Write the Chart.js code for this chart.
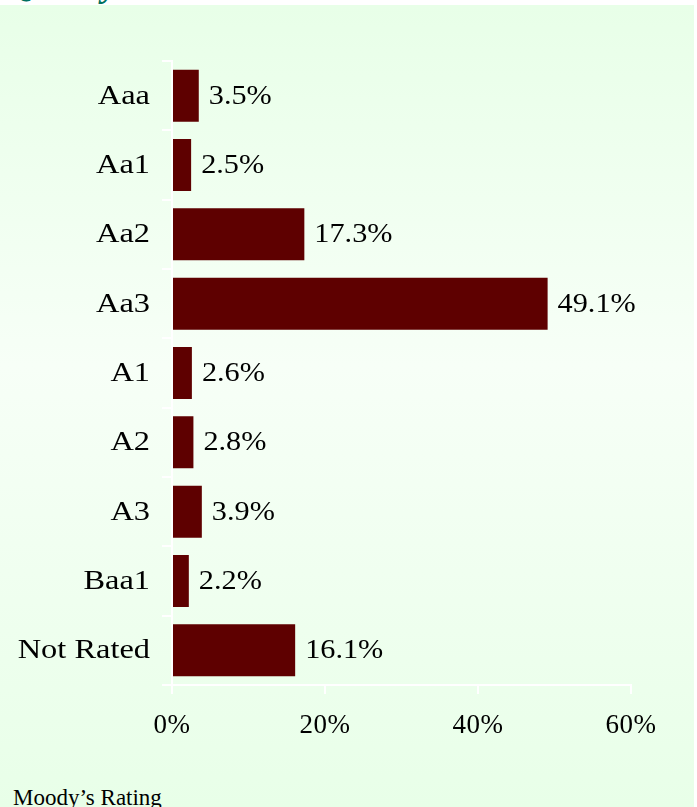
<!DOCTYPE html>
<html lang="en">
<head>
    <meta charset="UTF-8">
    <title>Quality - Moody's Rating</title>
    <style>
        body {
            margin: 0;
            background: #ffffff;
            font-family: "Liberation Serif", "Times New Roman", serif;
            overflow: hidden;
        }
        .panel {
            position: absolute;
            left: 0;
            top: 5px;
            width: 694px;
            height: 802px;
            background: linear-gradient(to bottom, #e8ffe8 0%, #f7fff7 45%, #e8ffe8 100%);
        }
        .heading {
            position: absolute;
            left: 8px;
            top: -34px;
            margin: 0;
            font-size: 36px;
            font-weight: bold;
            font-style: italic;
            color: #007060;
            line-height: 36px;
        }
        .footnote {
            position: absolute;
            left: 13px;
            top: 787px;
            font-size: 23px;
            line-height: 22px;
            color: #000;
        }
        .chart-box {
            position: absolute;
            left: 0;
            top: 0;
            width: 697px;
            height: 807px;
        }
    </style>
</head>
<body>
    <div class="panel"></div>
    <h1 class="heading">Quality</h1>
    <div class="footnote">Moody’s Rating</div>
    <div class="chart-box">
        <canvas id="ratingChart" width="697" height="807"></canvas>
    </div>

    <script src="https://cdn.jsdelivr.net/npm/chart.js"></script>
    <script>
        // Rating buckets and their share of the portfolio (%)
        const ratings = ['Aaa', 'Aa1', 'Aa2', 'Aa3', 'A1', 'A2', 'A3', 'Baa1', 'Not Rated'];
        const shares = [3.5, 2.5, 17.3, 49.1, 2.6, 2.8, 3.9, 2.2, 16.1];
        const axisTicks = [0, 20, 40, 60];

        const serif = '"Liberation Serif", "Times New Roman", serif';

        // text drawn a bit wider than the font's normal width
        function wideText(ctx, text, x, y, stretch) {
            ctx.save();
            ctx.translate(x, y);
            ctx.scale(stretch, 1);
            ctx.fillText(text, 0, 0);
            ctx.restore();
        }

        // Rating names left of the y axis, placed on the category scale
        const ratingLabels = {
            id: 'ratingLabels',
            afterDraw(chart) {
                const ctx = chart.ctx;
                const y = chart.scales.y;
                ctx.save();
                ctx.font = '27px ' + serif;
                ctx.fillStyle = '#000';
                ctx.textAlign = 'right';
                ctx.textBaseline = 'middle';
                ratings.forEach((r, i) => {
                    wideText(ctx, r, y.right - 22, y.getPixelForTick(i) + 1, 1.2);
                });
                ctx.restore();
            }
        };

        // Percentage label at the end of each bar
        const valueLabels = {
            id: 'valueLabels',
            afterDatasetsDraw(chart) {
                const ctx = chart.ctx;
                const meta = chart.getDatasetMeta(0);
                ctx.save();
                ctx.font = '27px ' + serif;
                ctx.fillStyle = '#000';
                ctx.textAlign = 'left';
                ctx.textBaseline = 'middle';
                meta.data.forEach((bar, i) => {
                    wideText(ctx, shares[i].toFixed(1) + '%', bar.x + 10, bar.y + 1, 1.12);
                });
                ctx.restore();
            }
        };

        // small letter spacing on the percent ticks
        const spacedTicks = {
            id: 'spacedTicks',
            afterLayout(chart) {
                const x = chart.scales.x;
                if (!x || x._spaced) return;
                const orig = x.drawLabels;
                x.drawLabels = function (area) {
                    this.ctx.save();
                    this.ctx.letterSpacing = '0.5px';
                    orig.call(this, area);
                    this.ctx.restore();
                };
                x._spaced = true;
            }
        };

        const ctx = document.getElementById('ratingChart').getContext('2d');
        new Chart(ctx, {
            type: 'bar',
            data: {
                labels: ratings,
                datasets: [{
                    data: shares,
                    backgroundColor: '#5e0000',
                    borderWidth: 0,
                    barPercentage: 0.75,
                    categoryPercentage: 1
                }]
            },
            options: {
                indexAxis: 'y',
                responsive: false,
                animation: false,
                layout: {
                    padding: { top: 61, right: 66, left: 0, bottom: 0 }
                },
                plugins: {
                    legend: { display: false },
                    tooltip: { enabled: false }
                },
                scales: {
                    x: {
                        min: 0,
                        max: 60,
                        afterFit: (scale) => { scale.height = 122; },
                        afterBuildTicks: (scale) => {
                            scale.ticks = axisTicks.map(v => ({ value: v }));
                        },
                        grid: {
                            drawOnChartArea: false,
                            color: '#ffffff',
                            lineWidth: 2,
                            tickLength: 9
                        },
                        border: { color: '#ffffff', width: 2 },
                        ticks: {
                            color: '#000',
                            padding: 16,
                            maxRotation: 0,
                            font: { family: serif, size: 27 },
                            callback: (v) => v + '%'
                        }
                    },
                    y: {
                        afterFit: (scale) => { scale.width = 172; },
                        grid: {
                            drawOnChartArea: false,
                            color: '#ffffff',
                            lineWidth: 2,
                            tickLength: 10
                        },
                        border: { color: '#ffffff', width: 2 },
                        ticks: { display: false }
                    }
                }
            },
            plugins: [spacedTicks, ratingLabels, valueLabels]
        });
    </script>
</body>
</html>
